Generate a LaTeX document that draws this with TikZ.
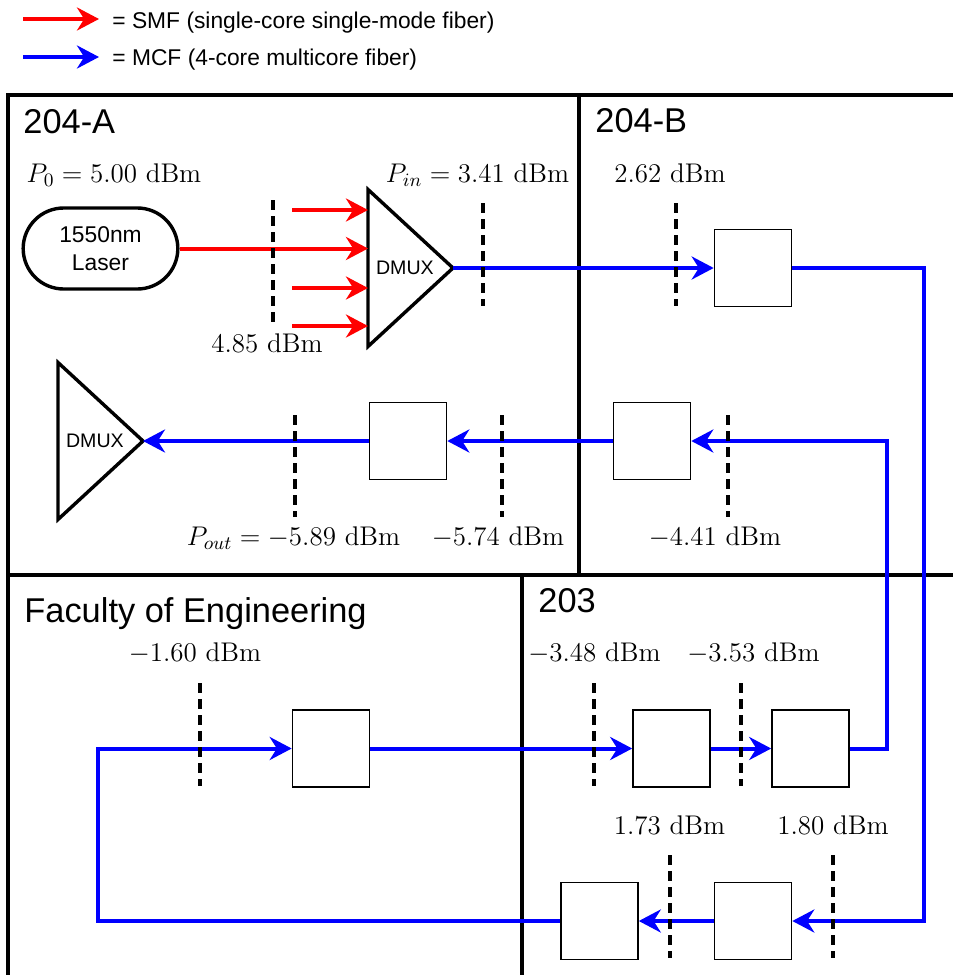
\documentclass[tikz,border=0pt]{standalone}
\usepackage{fix-cm}
\usepackage{fontspec}
\setsansfont{Liberation Sans}
\usepackage{tikz}
\usetikzlibrary{arrows.meta, positioning, calc, shapes.geometric, shapes.misc}

\begin{document}
\begin{tikzpicture}[
    x=0.5pt, y=-0.5pt,
    room/.style={line width=2.1pt},
    roomname/.style={font=\fontsize{17.2}{20}\sffamily, anchor=base west, inner sep=0pt},
    legtext/.style={font=\fontsize{11.4}{14}\sffamily, anchor=base west, inner sep=0pt},
    dbm/.style={font=\fontsize{13.5}{15}\selectfont, anchor=base, inner sep=0pt},
    probe/.style={line width=1.7pt, dash pattern=on 5pt off 3pt},
    unit/.style={draw, line width=0.8pt, minimum size=38.5pt, inner sep=0pt},
    dmux/.style={draw, isosceles triangle, isosceles triangle stretches, shape border rotate=0,
                 minimum width=78.5pt, minimum height=42.5pt, line width=1.7pt,
                 inner sep=0pt, outer sep=0pt, font=\fontsize{9.8}{11}\sffamily},
    laser/.style={draw, rounded rectangle, line width=1.7pt, minimum width=84pt,
                  minimum height=40.5pt, align=center, font=\fontsize{11.4}{14}\sffamily},
    smf/.style={red, line width=2pt, -{Stealth[length=11pt, width=11.5pt]}},
    mcf/.style={blue, line width=2pt, -{Stealth[length=11pt, width=11.5pt]}},
]
\useasboundingbox (0,0) rectangle (953,975);
% === Legend ===
\coordinate (legSMF) at (23,19);
\coordinate (legMCF) at (23,57);
\draw[smf] (legSMF) -- ++(76,0);
\draw[mcf] (legMCF) -- ++(76,0);
\node[legtext] (legSMFtxt) at (112,28) {= SMF (single-core single-mode fiber)};
\node[legtext] (legMCFtxt) at (112,65) {= MCF (4-core multicore fiber)};
% === Rooms ===
\draw[room] (953,95) -- (8,95) -- (8,975);
\draw[room] (579,95) -- (579,575);
\draw[room] (8,575) -- (953,575);
\draw[room] (522,575) -- (522,975);
\node[roomname] (r204a) at (23,133) {204-A};
\node[roomname] (r204b) at (595,132) {204-B};
\node[roomname] (rfac) at (24,622) {Faculty of Engineering};
\node[roomname] (r203) at (538,612) {203};
% === Transmitter: laser split into four SMF cores, joined onto the MCF ===
\node[laser] (laser) at (100.5,248.5) {1550nm\\Laser};
\node[dmux, anchor=apex] (dmuxA) at (453,268) {DMUX};
\coordinate (core1) at (292,210);
\coordinate (core3) at (292,288);
\coordinate (core4) at (292,326);
\draw[smf] (laser.east) -- (laser.east -| dmuxA.left corner);
\draw[smf] (core1) -- (core1 -| dmuxA.left corner);
\draw[smf] (core3) -- (core3 -| dmuxA.left corner);
\draw[smf] (core4) -- (core4 -| dmuxA.left corner);
% === Fan-in/fan-out units along the MCF link ===
\node[unit] (bB1) at (753,268) {};
\node[unit] (bB2) at (652,441) {};
\node[unit] (bA) at (408,441) {};
\node[unit] (bE) at (331,748.5) {};
\node[unit] (bC1) at (671.5,748.5) {};
\node[unit] (bC2) at (810.5,748.5) {};
\node[unit] (bD1) at (599.5,921) {};
\node[unit] (bD2) at (753,921) {};
\node[dmux, anchor=apex] (dmuxB) at (143,441) {DMUX};
\draw[mcf] (dmuxA.apex) -- (bB1.west);
\draw[mcf] (bB1.east) -- ++(132,0) |- (bD2.east);
\draw[mcf] (bD2.west) -- (bD1.east);
\draw[mcf] (bD1.west) -- ++(-462,0) |- (bE.west);
\draw[mcf] (bE.east) -- (bC1.west);
\draw[mcf] (bC1.east) -- (bC2.west);
\draw[mcf] (bC2.east) -- ++(37,0) |- (bB2.east);
\draw[mcf] (bB2.west) -- (bA.east);
\draw[mcf] (bA.west) -- (dmuxB.apex);
% === Measurement points ===
\draw[probe] (273,200) -- (273,327);
\draw[probe] (483,203) -- (483,306);
\draw[probe] (676,203) -- (676,306);
\draw[probe] (295,415) -- (295,517);
\draw[probe] (502,415) -- (502,517);
\draw[probe] (728,415) -- (728,517);
\draw[probe] (200,683) -- (200,786);
\draw[probe] (594,683) -- (594,786);
\draw[probe] (741,683) -- (741,786);
\draw[probe] (670,855) -- (670,958);
\draw[probe] (833,855) -- (833,958);
\node[dbm] (p0) at (114,182) {$P_0 = 5.00$ dBm};
\node[dbm] (pin) at (477.5,182) {$P_{in} = 3.41$ dBm};
\node[dbm] (m262) at (670,182) {$2.62$ dBm};
\node[dbm] (m485) at (267,352) {$4.85$ dBm};
\node[dbm] (pout) at (293.5,545) {$P_{out} = -5.89$ dBm};
\node[dbm] (m574) at (498,545) {$-5.74$ dBm};
\node[dbm] (m441) at (715,545) {$-4.41$ dBm};
\node[dbm] (m160) at (195,661) {$-1.60$ dBm};
\node[dbm] (m348) at (594.5,661) {$-3.48$ dBm};
\node[dbm] (m353) at (753.5,661) {$-3.53$ dBm};
\node[dbm] (m173) at (669.5,834) {$1.73$ dBm};
\node[dbm] (m180) at (833,834) {$1.80$ dBm};
\end{tikzpicture}
\end{document}
